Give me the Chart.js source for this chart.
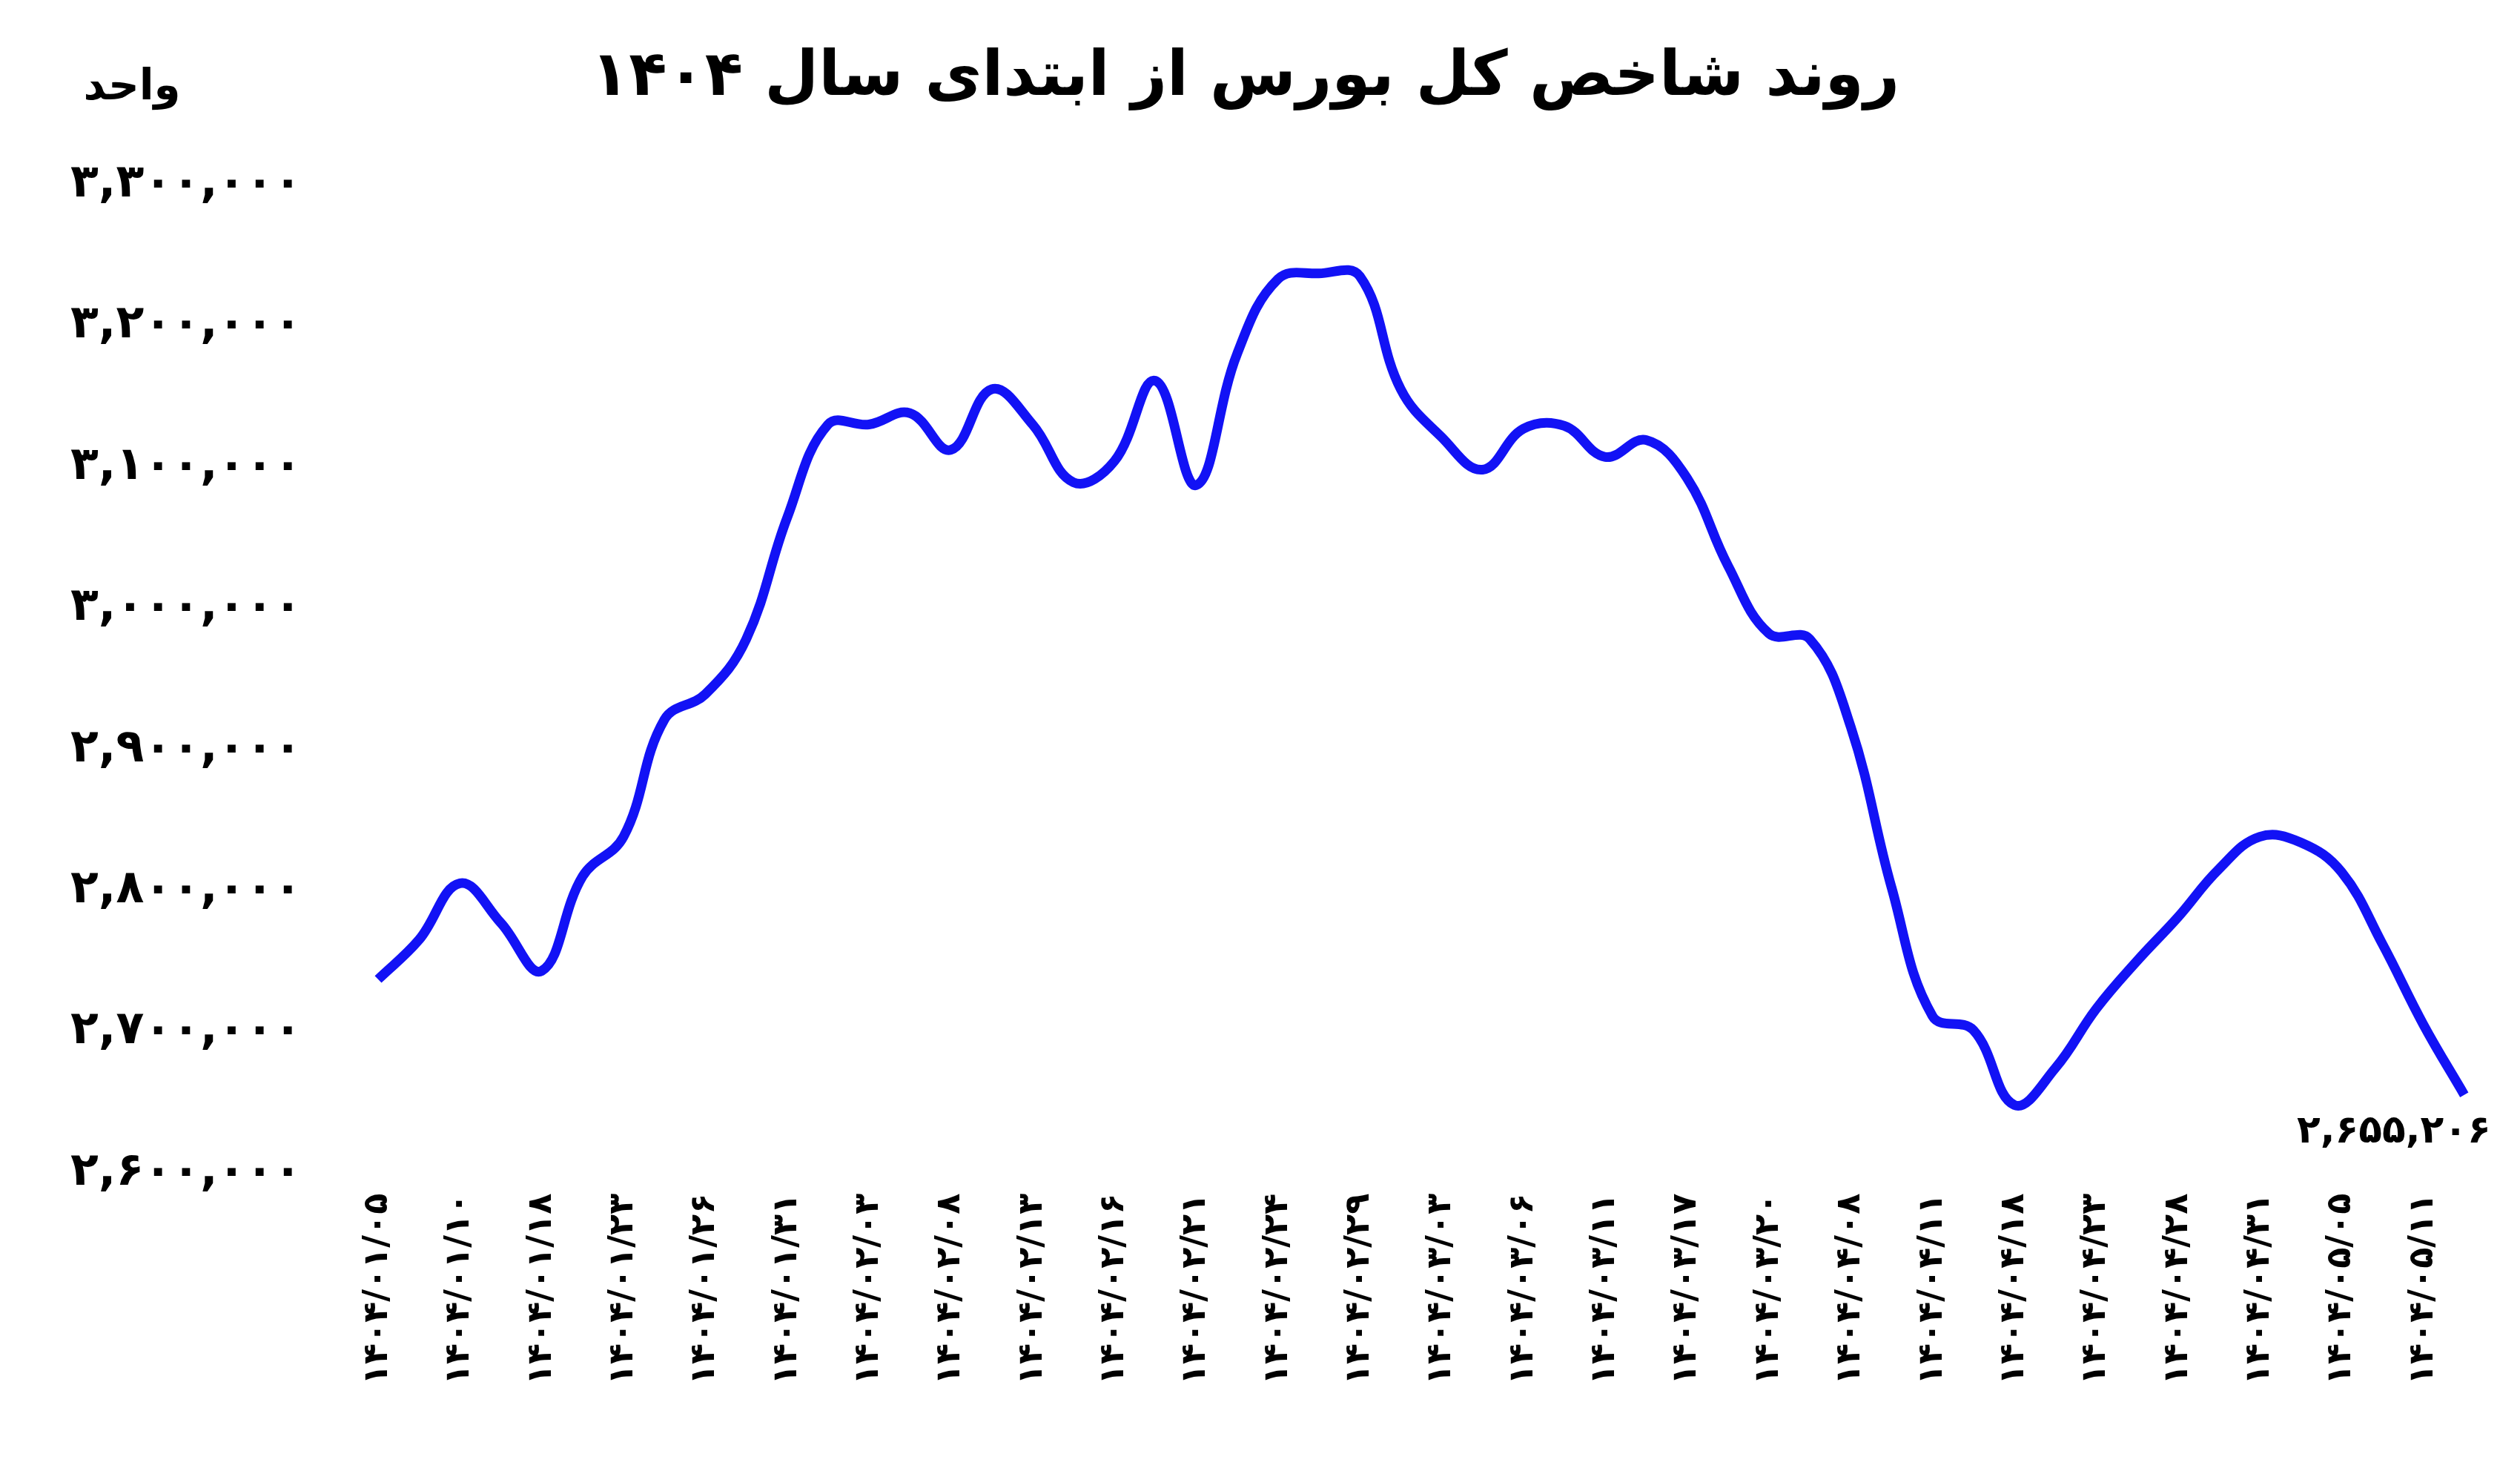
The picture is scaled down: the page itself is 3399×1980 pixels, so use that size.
<!DOCTYPE html>
<html><head><meta charset="utf-8">
<script src="https://cdn.jsdelivr.net/npm/chart.js@4"></script>
<style>html,body{margin:0;padding:0;background:#fff}#w{width:3399px;height:1980px}</style>
</head><body><div id="w"><canvas id="c"></canvas></div>
<script>
const tickDates = ['۱۴۰۴/۰۱/۰۵','۱۴۰۴/۰۱/۱۰','۱۴۰۴/۰۱/۱۸','۱۴۰۴/۰۱/۲۳','۱۴۰۴/۰۱/۲۶','۱۴۰۴/۰۱/۳۱','۱۴۰۴/۰۲/۰۳','۱۴۰۴/۰۲/۰۸','۱۴۰۴/۰۲/۱۳','۱۴۰۴/۰۲/۱۶','۱۴۰۴/۰۲/۲۱','۱۴۰۴/۰۲/۲۴','۱۴۰۴/۰۲/۲۹','۱۴۰۴/۰۳/۰۳','۱۴۰۴/۰۳/۰۶','۱۴۰۴/۰۳/۱۱','۱۴۰۴/۰۳/۱۷','۱۴۰۴/۰۳/۲۰','۱۴۰۴/۰۴/۰۸','۱۴۰۴/۰۴/۱۱','۱۴۰۴/۰۴/۱۸','۱۴۰۴/۰۴/۲۳','۱۴۰۴/۰۴/۲۸','۱۴۰۴/۰۴/۳۱','۱۴۰۴/۰۵/۰۵','۱۴۰۴/۰۵/۱۱'];
const indexValues = [2737000,2765000,2805000,2777000,2743000,2810000,2838000,2921000,2939000,2978000,3064000,3130000,3130000,3138000,3112000,3155000,3130000,3089000,3104000,3161000,3087000,3180000,3233000,3237000,3235000,3155000,3121000,3098000,3127000,3129000,3107000,3119000,3092000,3030000,2982000,2978000,2916000,2802000,2711000,2701000,2648000,2674000,2716000,2750000,2781000,2815000,2838000,2834000,2813000,2762000,2705000,2655206];
const labels = indexValues.map((v,i)=> i%2===0 ? (tickDates[i/2]||'') : '');
const fa = s => String(s).replace(/\d/g,d=>'۰۱۲۳۴۵۶۷۸۹'[d]);
const fmt = v => fa(Math.round(v).toString().replace(/\B(?=(\d{3})+(?!\d))/g,','));
const FONT = "'DejaVu Sans', sans-serif";
const extras = {
  id:'extras',
  afterDraw(ch){
    const c=ch.ctx, x=ch.scales.x, y=ch.scales.y;
    c.save();
    c.fillStyle='#000';
    c.font='bold 58px '+FONT;
    c.textAlign='center'; c.textBaseline='middle';
    c.fillText('واحد',178,119);
    const n=indexValues.length-1;
    c.font='bold 52px '+FONT;
    c.textAlign='center'; c.textBaseline='top';
    c.fillText(fmt(indexValues[n]), x.getPixelForValue(n)-95, y.getPixelForValue(indexValues[n])+25);
    c.restore();
  }
};
new Chart(document.getElementById('c'),{
  type:'line',
  data:{labels,datasets:[{data:indexValues,borderColor:'#1212f5',borderWidth:13,pointRadius:0,tension:0.4,fill:false}]},
  options:{
    responsive:true,maintainAspectRatio:false,devicePixelRatio:1,animation:false,
    layout:{padding:{left:0,right:40,top:20,bottom:92}},
    plugins:{legend:{display:false},tooltip:{enabled:false},
      title:{display:true,text:'روند شاخص کل بورس از ابتدای سال ۱۴۰۴',color:'#000',font:{family:FONT,size:84,weight:'bold'},padding:{top:36,bottom:92}}},
    scales:{
      x:{offset:false,grid:{display:false},border:{display:false},
        ticks:{autoSkip:false,maxRotation:90,minRotation:90,padding:20,color:'#000',font:{family:FONT,size:46,weight:'bold'}}},
      y:{min:2600000,max:3300000,grid:{display:false},border:{display:false},
        ticks:{stepSize:100000,padding:95,color:'#000',font:{family:FONT,size:62,weight:'bold'},callback:v=>fmt(v)}}
    }
  },
  plugins:[extras]
});
</script></body></html>
